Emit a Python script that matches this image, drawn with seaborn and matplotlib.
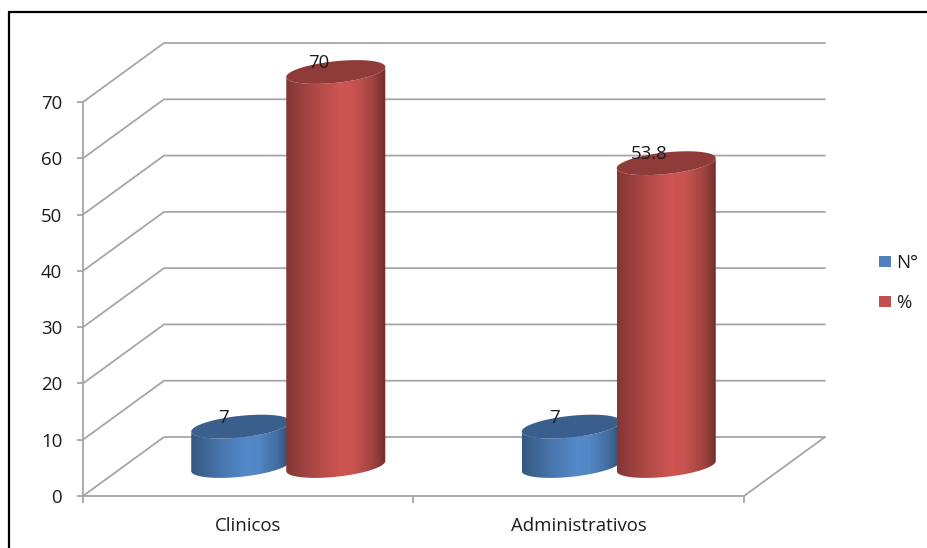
import numpy as np
import pandas as pd
import seaborn as sns
import matplotlib
matplotlib.use("Agg")
import matplotlib.pyplot as plt
from matplotlib.patches import PathPatch, Patch
from matplotlib.path import Path
from matplotlib.colors import to_rgb, LinearSegmentedColormap
from matplotlib.lines import Line2D

# Survey counts and percentages by staff group
categories = ["Clinicos", "Administrativos"]
series_names = ["N°", "%"]
n_values = [7, 7]
pct_values = [70, 53.8]
value_labels = {"N°": ["7", "7"], "%": ["70", "53.8"]}
y_ticks = [0, 10, 20, 30, 40, 50, 60, 70]
series_colors = ["#4f81bd", "#c0504d"]

W, H = 928, 548
FONT = "Open Sans"
GREY = "#a6a6a6"
TEXT = "#1c1c1c"
FONT_SIZE = 13.4

sns.set_theme(style="white")
plt.rcParams["font.family"] = [FONT, "DejaVu Sans"]

df = pd.DataFrame({
    "grupo": categories * 2,
    "serie": [series_names[0]] * 2 + [series_names[1]] * 2,
    "valor": n_values + pct_values,
})

fig = plt.figure(figsize=(W / 100, H / 100), dpi=100, facecolor="white")

# Front plane of the box: the value and category axes live here
left, right, bottom, top = 83, 744, 496, 102
ax = fig.add_axes([left / W, 1 - bottom / H, (right - left) / W, (bottom - top) / H])
sns.barplot(data=df, x="grupo", y="valor", hue="serie", hue_order=series_names,
            order=categories, palette=series_colors, width=0.575, gap=-0.042,
            dodge=True, legend=False, ax=ax)
ax.set_xlim(-0.5, 1.5)
ax.set_ylim(0, 70)
ax.set_xlabel("")
ax.set_ylabel("")
ax.patch.set_alpha(0)
fig.canvas.draw()

# Overlay in pixel units for the depth effect
ov = fig.add_axes([0, 0, 1, 1], zorder=3)
ov.set_xlim(0, W)
ov.set_ylim(H, 0)
ov.axis("off")


def to_px(x, y):
    px, py = ax.transData.transform((x, y))
    return px, H - py


# Depth of the box and of the plane where the cylinders stand
DX, DY = 81, 59
BAR_DX, BAR_DY = 40, 30
SLOPE = 5.0 / 49.5
MINOR = 10.8


def rim(cx, cy, a, t):
    return cx + a * np.cos(t), cy - SLOPE * a * np.cos(t) + MINOR * np.sin(t)


def shade(base):
    rgb = np.array(to_rgb(base))
    stops = [(0.0, rgb * 0.68), (0.28, rgb * 0.9), (0.55, np.minimum(rgb * 1.07, 1)),
             (0.68, np.minimum(rgb * 1.04, 1)), (0.86, rgb * 0.85), (1.0, rgb * 0.58)]
    return LinearSegmentedColormap.from_list("cyl", [(p, tuple(c)) for p, c in stops])


def cylinder(x0, x1, y_top, y_base, base, z):
    a = (x1 - x0) / 2
    cx = (x0 + x1) / 2
    t = np.linspace(np.pi, 0, 80)
    bx, by = rim(cx, y_base, a, t)
    tx, ty = rim(cx, y_top, a, t[::-1])
    verts = np.vstack([np.column_stack([bx, by]), np.column_stack([tx, ty]), [bx[0], by[0]]])
    clip = PathPatch(Path(verts, closed=True), transform=ov.transData, fc="none", ec="none")
    ov.add_patch(clip)
    grad = np.linspace(0, 1, 256)[None, :]
    im = ov.imshow(grad, cmap=shade(base), extent=[x0, x1, y_base + 20, y_top - 20],
                   aspect="auto", zorder=z, interpolation="bilinear")
    im.set_clip_path(clip)
    t_full = np.linspace(0, 2 * np.pi, 160)
    ex, ey = rim(cx, y_top, a, t_full)
    cap = np.array(to_rgb(base)) * 0.74
    ov.fill(ex, ey, color=tuple(cap), lw=0, zorder=z + 0.1)


# Gridlines run along the side wall and across the back wall
for v in y_ticks:
    x0, y0 = to_px(-0.5, v)
    ov.plot([x0, x0 + DX, right + DX], [y0, y0 - DY, y0 - DY], color=GREY, lw=1.3,
            zorder=1, solid_joinstyle="miter")
ex, ey = to_px(1.5, 0)
ov.plot([ex, ex + DX], [ey, ey - DY], color=GREY, lw=1.3, zorder=1)
ov.set_xlim(0, W)
ov.set_ylim(H, 0)

# Each seaborn bar supplies the geometry of one cylinder
bars = list(ax.patches)
for i, name in enumerate(series_names):
    for j in range(len(categories)):
        bar = bars[i * len(categories) + j]
        bx0, by0 = to_px(bar.get_x(), 0)
        bx1, by1 = to_px(bar.get_x() + bar.get_width(), bar.get_height())
        x0, x1 = bx0 + BAR_DX, bx1 + BAR_DX
        y_base, y_top = by0 - BAR_DY, by1 - BAR_DY
        cylinder(x0, x1, y_top, y_base, series_colors[i], 2 + i + j * 0.01)
        ov.text((x0 + x1) / 2 - 17, y_top - 9, value_labels[name][j], ha="center",
                va="center", fontsize=FONT_SIZE, color=TEXT, zorder=6)
        bar.set_visible(False)
ov.set_xlim(0, W)
ov.set_ylim(H, 0)

# Axis styling
for side in ("top", "right"):
    ax.spines[side].set_visible(False)
for side in ("left", "bottom"):
    ax.spines[side].set_color(GREY)
    ax.spines[side].set_linewidth(1.3)
ax.set_yticks(y_ticks)
ax.tick_params(axis="y", left=True, length=4, width=1.3, color=GREY, labelsize=FONT_SIZE,
               labelcolor=TEXT, pad=11)
ax.set_xticks([-0.5, 0.5, 1.5], labels=["", "", ""])
ax.set_xticks([0, 1], labels=categories, minor=True)
ax.tick_params(axis="x", which="major", bottom=True, length=5, width=1.3, color=GREY)
ax.tick_params(axis="x", which="minor", bottom=False, length=0, labelsize=FONT_SIZE,
               labelcolor=TEXT, pad=15)

# Legend to the right of the box
handles = [Patch(facecolor=c, edgecolor="none", label=n)
           for c, n in zip(series_colors, series_names)]
ov.legend(handles=handles, loc="center left", bbox_to_anchor=(879 / W, 1 - 283 / H),
          frameon=False, fontsize=FONT_SIZE, handlelength=0.66, handleheight=0.6,
          handletextpad=0.28, labelspacing=1.18, borderpad=0, borderaxespad=0,
          labelcolor=TEXT)

# Black frame along the top and left edges
fig.add_artist(Line2D([9 / W, 9 / W, 1], [0, 1 - 12 / H, 1 - 12 / H], color="black",
                      lw=1.6, solid_joinstyle="miter"))

fig.savefig("out.png", dpi=100, facecolor="white")
